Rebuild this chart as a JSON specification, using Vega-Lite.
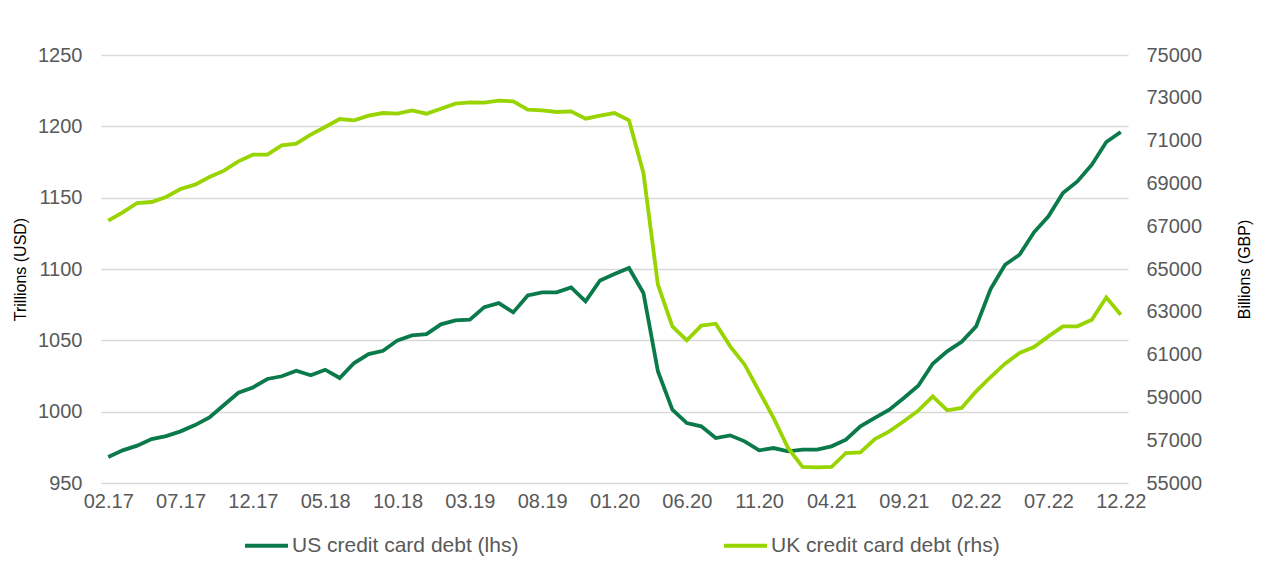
{
  "$schema": "https://vega.github.io/schema/vega-lite/v6.json",
  "width": 1027,
  "height": 428,
  "autosize": {"type": "none"},
  "padding": {"left": 101, "top": 55, "right": 134, "bottom": 79},
  "background": "white",
  "config": {
    "view": {"stroke": null},
    "font": "Liberation Sans",
    "axis": {
      "labelFont": "Liberation Sans",
      "titleFont": "Liberation Sans",
      "labelFontSize": 20,
      "labelColor": "#595959",
      "titleFontSize": 16,
      "titleFontWeight": "normal",
      "titleColor": "#000000",
      "ticks": false,
      "tickSize": 0,
      "domain": false,
      "gridColor": "#d9d9d9",
      "gridWidth": 1.5
    },
    "legend": {"labelFont": "Liberation Sans"}
  },
  "data": {
    "values": [
      {"m": "02.17", "us": 968.2, "uk": 67258},
      {"m": "03.17", "us": 972.9, "uk": 67648},
      {"m": "04.17", "us": 976.2, "uk": 68084},
      {"m": "05.17", "us": 980.8, "uk": 68131},
      {"m": "06.17", "us": 982.9, "uk": 68364},
      {"m": "07.17", "us": 986.2, "uk": 68738},
      {"m": "08.17", "us": 990.6, "uk": 68941},
      {"m": "09.17", "us": 996.0, "uk": 69299},
      {"m": "10.17", "us": 1004.7, "uk": 69595},
      {"m": "11.17", "us": 1013.3, "uk": 70031},
      {"m": "12.17", "us": 1017.0, "uk": 70342},
      {"m": "01.18", "us": 1022.9, "uk": 70342},
      {"m": "02.18", "us": 1024.8, "uk": 70778},
      {"m": "03.18", "us": 1028.7, "uk": 70856},
      {"m": "04.18", "us": 1025.5, "uk": 71277},
      {"m": "05.18", "us": 1029.4, "uk": 71635},
      {"m": "06.18", "us": 1023.6, "uk": 72009},
      {"m": "07.18", "us": 1034.1, "uk": 71947},
      {"m": "08.18", "us": 1040.4, "uk": 72165},
      {"m": "09.18", "us": 1042.7, "uk": 72289},
      {"m": "10.18", "us": 1050.0, "uk": 72258},
      {"m": "11.18", "us": 1053.5, "uk": 72414},
      {"m": "12.18", "us": 1054.4, "uk": 72258},
      {"m": "01.19", "us": 1061.2, "uk": 72492},
      {"m": "02.19", "us": 1064.0, "uk": 72725},
      {"m": "03.19", "us": 1064.5, "uk": 72788},
      {"m": "04.19", "us": 1073.3, "uk": 72772},
      {"m": "05.19", "us": 1076.1, "uk": 72866},
      {"m": "06.19", "us": 1069.6, "uk": 72835},
      {"m": "07.19", "us": 1081.5, "uk": 72445},
      {"m": "08.19", "us": 1083.6, "uk": 72414},
      {"m": "09.19", "us": 1083.6, "uk": 72336},
      {"m": "10.19", "us": 1087.1, "uk": 72367},
      {"m": "11.19", "us": 1077.3, "uk": 72025},
      {"m": "12.19", "us": 1092.0, "uk": 72165},
      {"m": "01.20", "us": 1096.5, "uk": 72289},
      {"m": "02.20", "us": 1100.7, "uk": 71947},
      {"m": "03.20", "us": 1083.2, "uk": 69486},
      {"m": "04.20", "us": 1028.3, "uk": 64268},
      {"m": "05.20", "us": 1001.4, "uk": 62321},
      {"m": "06.20", "us": 992.0, "uk": 61667},
      {"m": "07.20", "us": 989.7, "uk": 62352},
      {"m": "08.20", "us": 981.5, "uk": 62445},
      {"m": "09.20", "us": 983.4, "uk": 61386},
      {"m": "10.20", "us": 979.2, "uk": 60529},
      {"m": "11.20", "us": 972.9, "uk": 59283},
      {"m": "12.20", "us": 974.5, "uk": 58037},
      {"m": "01.21", "us": 972.2, "uk": 56635},
      {"m": "02.21", "us": 973.4, "uk": 55748},
      {"m": "03.21", "us": 973.4, "uk": 55732},
      {"m": "04.21", "us": 975.7, "uk": 55748},
      {"m": "05.21", "us": 980.4, "uk": 56402},
      {"m": "06.21", "us": 989.7, "uk": 56433},
      {"m": "07.21", "us": 995.6, "uk": 57056},
      {"m": "08.21", "us": 1001.4, "uk": 57414},
      {"m": "09.21", "us": 1009.6, "uk": 57882},
      {"m": "10.21", "us": 1018.2, "uk": 58380},
      {"m": "11.21", "us": 1033.6, "uk": 59050},
      {"m": "12.21", "us": 1042.3, "uk": 58396},
      {"m": "01.22", "us": 1049.0, "uk": 58505},
      {"m": "02.22", "us": 1059.8, "uk": 59283},
      {"m": "03.22", "us": 1086.0, "uk": 59953},
      {"m": "04.22", "us": 1103.0, "uk": 60576},
      {"m": "05.22", "us": 1110.0, "uk": 61075},
      {"m": "06.22", "us": 1125.7, "uk": 61355},
      {"m": "07.22", "us": 1136.9, "uk": 61853},
      {"m": "08.22", "us": 1153.2, "uk": 62321},
      {"m": "09.22", "us": 1161.4, "uk": 62321},
      {"m": "10.22", "us": 1173.1, "uk": 62632},
      {"m": "11.22", "us": 1189.0, "uk": 63676},
      {"m": "12.22", "us": 1196.0, "uk": 62866}
    ]
  },
  "encoding": {
    "x": {
      "field": "m",
      "type": "ordinal",
      "sort": null,
      "scale": {"type": "point", "padding": 0.5},
      "axis": {
        "title": null,
        "labelAngle": 0,
        "grid": false,
        "labelPadding": 8,
        "values": ["02.17", "07.17", "12.17", "05.18", "10.18", "03.19", "08.19", "01.20", "06.20", "11.20", "04.21", "09.21", "02.22", "07.22", "12.22"]
      }
    }
  },
  "layer": [
    {
      "mark": {"type": "line", "strokeWidth": 3.8},
      "encoding": {
        "y": {
          "field": "us",
          "type": "quantitative",
          "scale": {"domain": [950, 1250], "nice": false, "zero": false},
          "axis": {
            "title": "Trillions (USD)",
            "grid": true,
            "format": "d",
            "values": [950, 1000, 1050, 1100, 1150, 1200, 1250],
            "labelPadding": 19,
            "titlePadding": 9
          }
        },
        "color": {
          "datum": "US credit card debt (lhs)",
          "type": "nominal",
          "scale": {
            "domain": ["US credit card debt (lhs)", "UK credit card debt (rhs)"],
            "range": ["#0b7a4b", "#97d400"]
          },
          "legend": {
            "title": null,
            "orient": "none",
            "legendX": 142,
            "legendY": 467,
            "direction": "horizontal",
            "symbolType": "stroke",
            "symbolStrokeWidth": 4,
            "symbolSize": 1849,
            "labelFontSize": 21,
            "labelColor": "#595959",
            "labelOffset": 2,
            "columnPadding": 197,
            "labelLimit": 400
          }
        }
      }
    },
    {
      "mark": {"type": "line", "strokeWidth": 3.8},
      "encoding": {
        "y": {
          "field": "uk",
          "type": "quantitative",
          "scale": {"domain": [55000, 75000], "nice": false, "zero": false},
          "axis": {
            "orient": "right",
            "title": "Billions (GBP)",
            "grid": false,
            "format": "d",
            "values": [55000, 57000, 59000, 61000, 63000, 65000, 67000, 69000, 71000, 73000, 75000],
            "labelPadding": 18,
            "titleAngle": 270,
            "titlePadding": 51
          }
        },
        "color": {"datum": "UK credit card debt (rhs)", "type": "nominal"}
      }
    }
  ],
  "resolve": {"scale": {"y": "independent"}}
}
